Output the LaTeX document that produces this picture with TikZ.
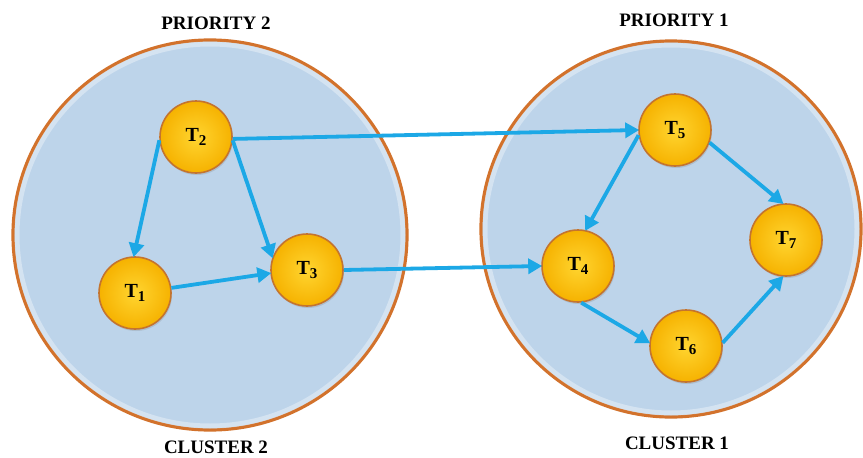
\documentclass[tikz,border=0pt]{standalone}
\usepackage{fontspec}
\setmainfont{Liberation Serif}
\usetikzlibrary{arrows.meta,shadows}
\definecolor{clusterfill}{HTML}{BDD4EA}
\definecolor{clusteredge}{HTML}{D2722C}
\definecolor{taskin}{HTML}{FFD530}
\definecolor{taskout}{HTML}{F6B200}
\definecolor{taskedge}{HTML}{C4742E}
\definecolor{flow}{HTML}{1CA8E6}
\newcommand{\task}[1]{T\raisebox{-0.45ex}{\fontsize{15}{15}\selectfont #1}}
\tikzset{
  cluster/.style={draw=clusteredge, line width=3.2pt, fill=clusterfill},
  glow/.style={draw=white, line width=5pt, opacity=0.35},
  task/.style={circle, minimum size=72pt, inner sep=0pt,
    shading=radial, inner color=taskin, outer color=taskout,
    draw=taskedge, line width=1.6pt,
    drop shadow={opacity=0.25, shadow xshift=1pt, shadow yshift=-2pt},
    font=\fontsize{20}{20}\selectfont\bfseries},
  caption/.style={font=\fontsize{19}{19}\selectfont\bfseries},
  link/.style={draw=flow, line width=3.8pt,
    -{Triangle[length=14pt,width=15pt]}, shorten >=-1pt}
}
\begin{document}
\begin{tikzpicture}[x=1pt,y=-1pt]
  \useasboundingbox (0,0) rectangle (863,458);
  \fill[white] (0,0) rectangle (863,458);

  % the two clusters
  \draw[cluster] (210,235) ellipse [x radius=197, y radius=195];
  \draw[glow] (210,235) ellipse [x radius=193, y radius=191];
  \draw[cluster] (671,229) ellipse [x radius=190, y radius=188];
  \draw[glow] (671,229) ellipse [x radius=186, y radius=184];

  % captions
  \node[caption] (p2) at (216,23) {PRIORITY 2};
  \node[caption] (p1) at (674,20) {PRIORITY 1};
  \node[caption] (c2) at (216,447) {CLUSTER 2};
  \node[caption] (c1) at (677,443) {CLUSTER 1};

  % tasks
  \node[task] (T2) at (196,137) {\task{2}};
  \node[task] (T1) at (135,293) {\task{1}};
  \node[task] (T3) at (307,270) {\task{3}};
  \node[task] (T5) at (675,130) {\task{5}};
  \node[task] (T4) at (578,266) {\task{4}};
  \node[task] (T7) at (786,240) {\task{7}};
  \node[task] (T6) at (686,346) {\task{6}};

  % dependencies
  \draw[link] (T2.185) -- (T1.92);
  \draw[link] (T2.355) -- (T3.160);
  \draw[link] (T2.357) -- (T5.180);
  \draw[link] (T1.8) -- (T3.185);
  \draw[link] (T3.0) -- (T4.180);
  \draw[link] (T5.188) -- (T4.78);
  \draw[link] (T5.340) -- (T7.95);
  \draw[link] (T4.275) -- (T6.175);
  \draw[link] (T6.5) -- (T7.265);
\end{tikzpicture}
\end{document}
